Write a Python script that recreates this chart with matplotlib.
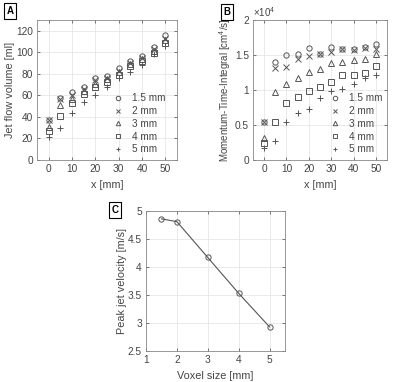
import numpy as np
import matplotlib.pyplot as plt
from matplotlib.ticker import FuncFormatter

# Datos
x_mm = [0, 5, 10, 15, 20, 25, 30, 35, 40, 45, 50]
etiquetas = ['1.5 mm', '2 mm', '3 mm', '4 mm', '5 mm']
marcadores = ['o', 'x', '^', 's', '+']

vol_15 = [37, 58, 63, 68, 76, 78, 85, 92, 97, 105, 116]
vol_2 = [37, 57, 60, 66, 74, 76, 83, 90, 95, 103, 112]
vol_3 = [31, 51, 57, 64, 71, 75, 82, 89, 94, 101, 111]
vol_4 = [27, 41, 53, 61, 68, 72, 79, 87, 92, 99, 109]
vol_5 = [21, 30, 44, 54, 60, 68, 76, 82, 88, 98, 106]

mti_15 = [5400, 14000, 15000, 15100, 16000, 15200, 16100, 15900, 15800, 16100, 16600]
mti_2 = [5400, 13200, 13300, 14500, 14900, 15100, 15500, 15800, 15700, 16000, 15800]
mti_3 = [3200, 9700, 10900, 11700, 12600, 13000, 13800, 14000, 14300, 14500, 15100]
mti_4 = [2500, 5400, 8100, 9000, 9900, 10500, 11200, 12100, 12200, 12500, 13500]
mti_5 = [1700, 2700, 5500, 6700, 7300, 8800, 9800, 10200, 10800, 11700, 12100]

voxel = [1.5, 2, 3, 4, 5]
pico = [4.86, 4.81, 4.17, 3.53, 2.93]

gris = '#555555'
texto = '#444444'
plt.rcParams['font.family'] = ['Liberation Sans', 'DejaVu Sans']
plt.rcParams['font.size'] = 7
plt.rcParams['mathtext.fontset'] = 'custom'
plt.rcParams['mathtext.rm'] = 'Liberation Sans'

fig = plt.figure(figsize=(4.0, 3.82), dpi=100)
W, H = 400.0, 382.0

def ejes(x0, y0, x1, y1):
    return fig.add_axes([x0 / W, 1 - y1 / H, (x1 - x0) / W, (y1 - y0) / H])

def estilo(ax, ylab_x):
    ax.grid(True, color='#e6e6e6', linewidth=0.6)
    ax.set_axisbelow(True)
    for s in ax.spines.values():
        s.set_color('#888888')
        s.set_linewidth(0.6)
    ax.tick_params(colors=texto, labelsize=7.3, length=2, width=0.5, direction='in',
                   top=True, right=True, pad=3)
    # posicion de la etiqueta y en pixeles de figura (borde derecho del texto)
    pos = ax.get_position()
    ax.yaxis.set_label_coords(ylab_x / W, pos.y0 + pos.height / 2, transform=fig.transFigure)

def caja(txt, x, y):
    fig.text(x / W, 1 - y / H, txt, fontsize=7, fontweight='bold', color='black',
             ha='center', va='center',
             bbox=dict(boxstyle='square,pad=0.3', facecolor='white', edgecolor='black', linewidth=0.8))

def dispersion(ax, series, xder):
    for serie, m, lab in zip(series, marcadores, etiquetas):
        ax.plot(x_mm, serie, linestyle='none', marker=m, markersize=3.8, markerfacecolor='none',
                markeredgecolor=gris, markeredgewidth=0.7, label=lab)
    ax.legend(loc='lower right', bbox_to_anchor=(xder, -0.01), frameon=False, fontsize=7.2,
              handlelength=0.8, handletextpad=1.0, labelspacing=0.28, labelcolor=texto,
              borderaxespad=0.3, markerscale=0.85)

# Panel A
axA = ejes(37, 20, 177, 160)
dispersion(axA, [vol_15, vol_2, vol_3, vol_4, vol_5], 0.97)
axA.set_xlim(-5, 55)
axA.set_ylim(0, 130)
axA.set_xticks([0, 10, 20, 30, 40, 50])
axA.set_yticks([0, 20, 40, 60, 80, 100, 120])
axA.set_xlabel('x [mm]', color=texto, fontsize=7.8)
axA.set_ylabel('Jet flow volume [ml]', color=texto, fontsize=7.8)
estilo(axA, 15)

# Panel B
axB = ejes(253, 20, 387, 160)
dispersion(axB, [mti_15, mti_2, mti_3, mti_4, mti_5], 1.02)
axB.set_xlim(-5, 55)
axB.set_ylim(0, 20000)
axB.set_xticks([0, 10, 20, 30, 40, 50])
axB.set_yticks([0, 5000, 10000, 15000, 20000])
axB.yaxis.set_major_formatter(FuncFormatter(lambda v, p: '%g' % (v / 1e4)))
axB.text(0.0, 1.01, r'$\times 10^4$', transform=axB.transAxes, ha='left', va='bottom',
         color=texto, fontsize=7)
axB.set_xlabel('x [mm]', color=texto, fontsize=7.8)
axB.set_ylabel('Momentum-Time-Integral [cm$^4$/s]', color=texto, fontsize=7.0)
estilo(axB, 233)

# Panel C
axC = ejes(146, 211, 285, 351)
axC.plot(voxel, pico, color=gris, linewidth=0.8, marker='o', markersize=3.8,
         markerfacecolor='none', markeredgecolor=gris, markeredgewidth=0.7)
axC.set_xlim(1, 5.5)
axC.set_ylim(2.5, 5)
axC.set_xticks([1, 2, 3, 4, 5])
axC.set_yticks([2.5, 3, 3.5, 4, 4.5, 5])
axC.yaxis.set_major_formatter(FuncFormatter(lambda v, p: '%g' % v))
axC.set_xlabel('Voxel size [mm]', color=texto, fontsize=7.8)
axC.set_ylabel('Peak jet velocity [m/s]', color=texto, fontsize=7.8)
estilo(axC, 127)

caja('A', 10, 11)
caja('B', 227, 12)
caja('C', 115, 210)

fig.savefig('out.png', dpi=100)
